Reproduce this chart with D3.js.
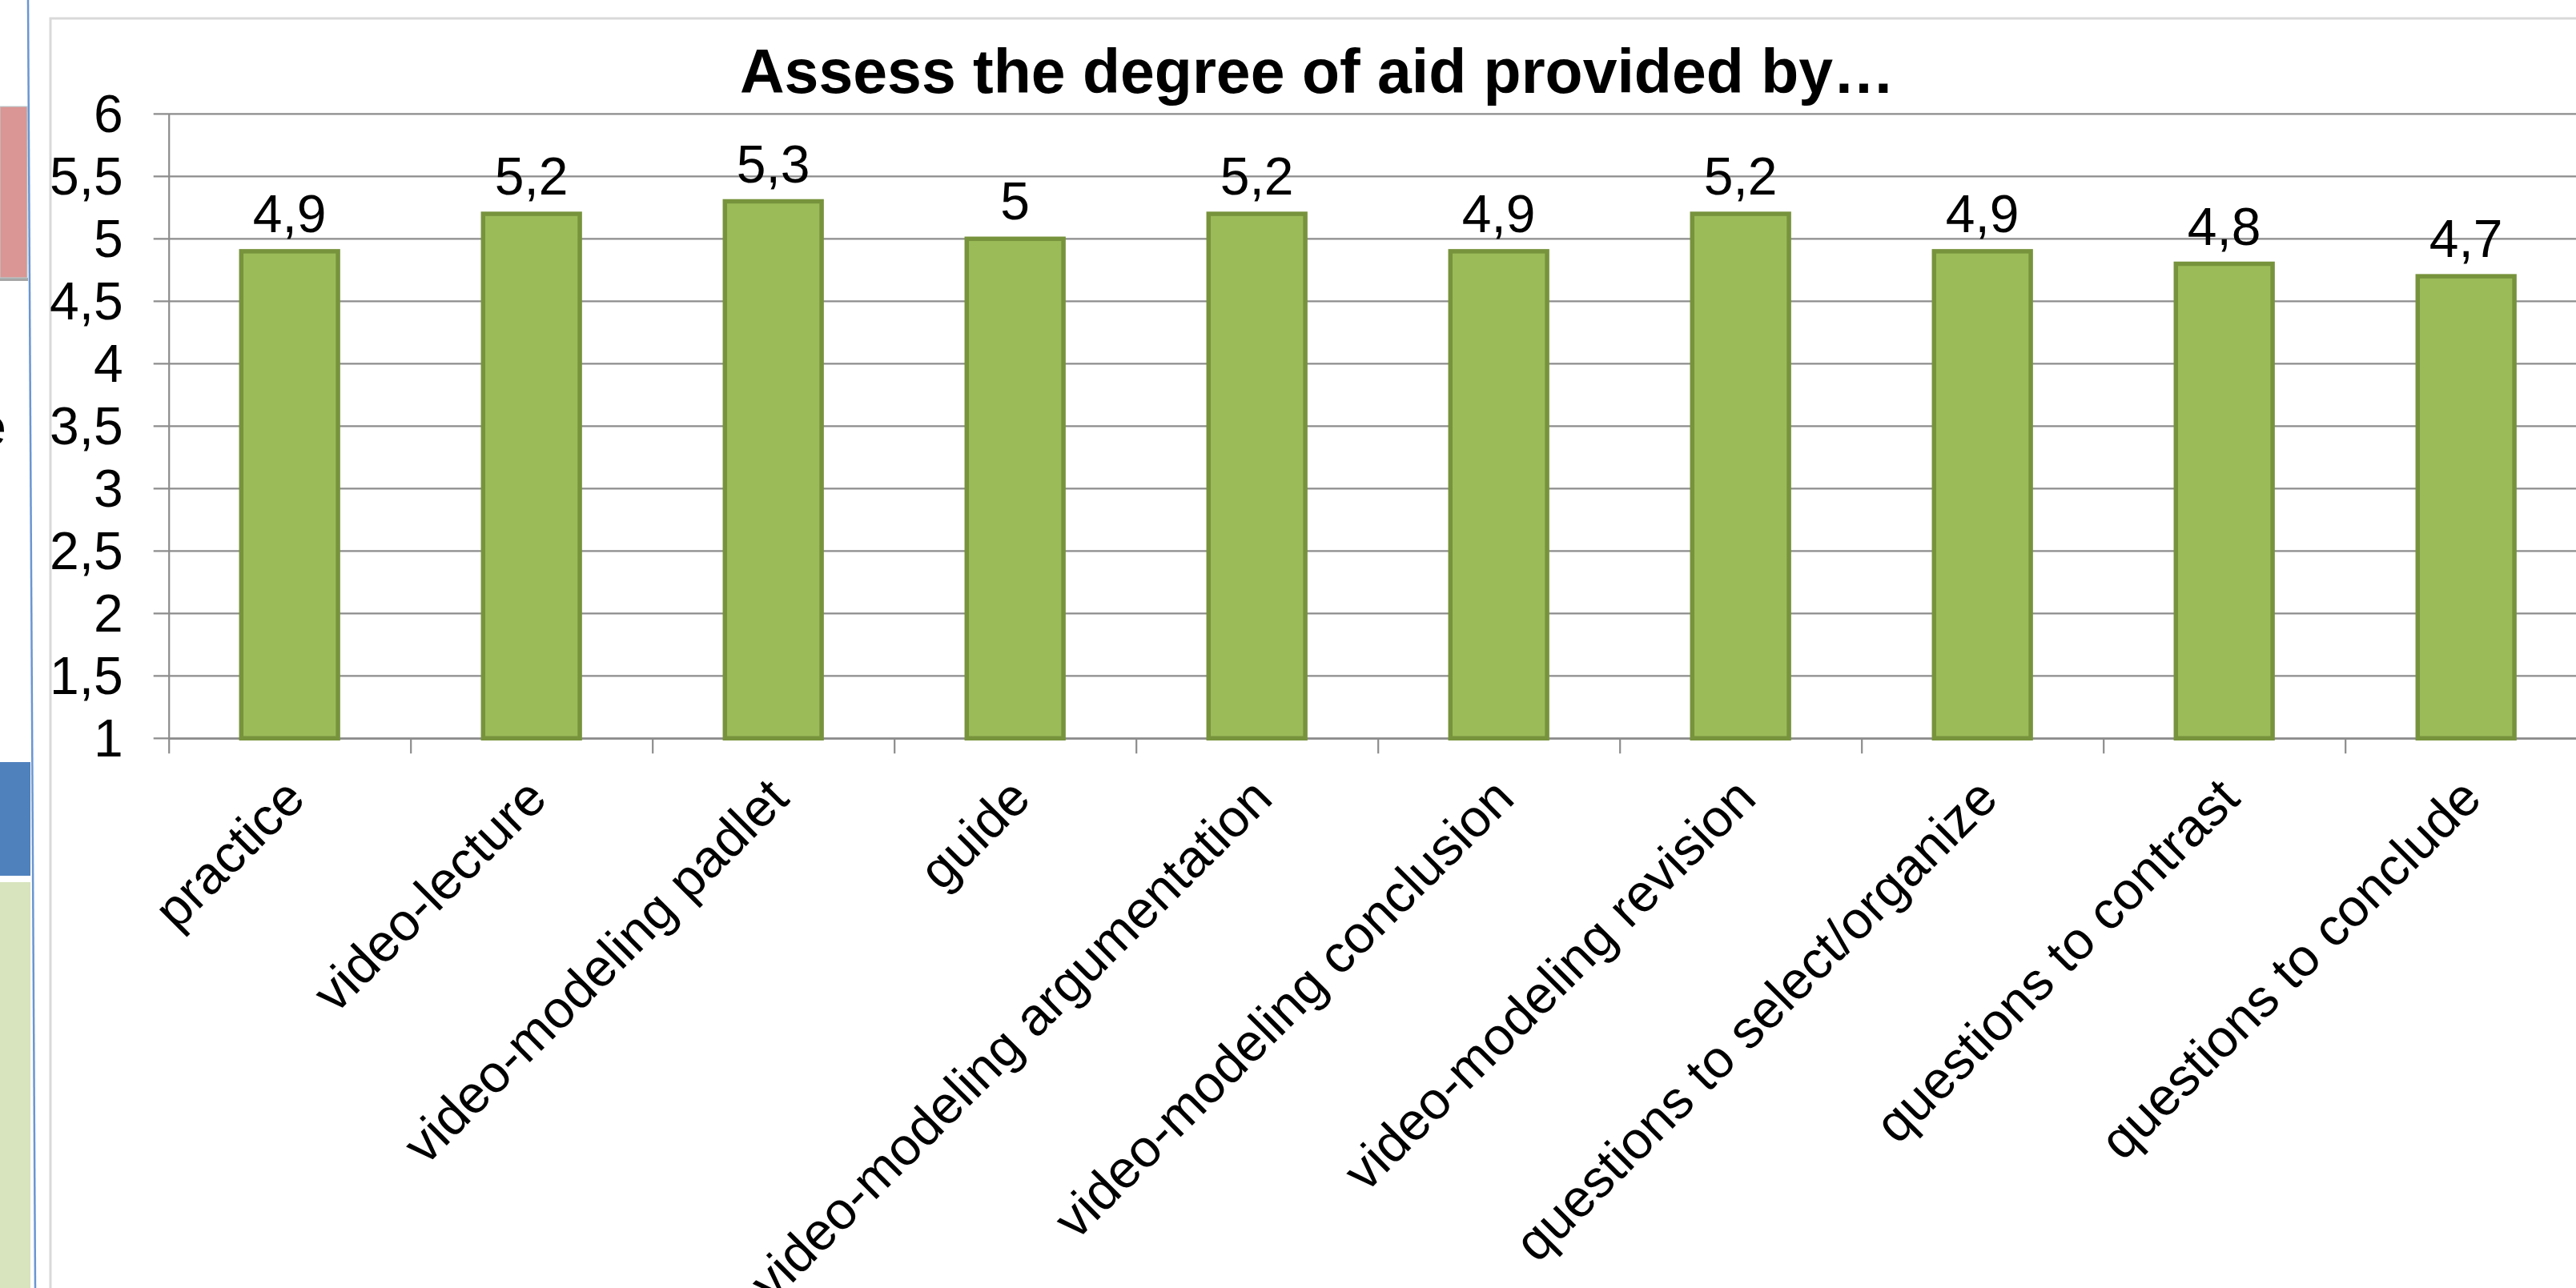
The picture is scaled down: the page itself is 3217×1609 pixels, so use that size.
<!DOCTYPE html>
<html>
<head>
<meta charset="utf-8">
<script src="https://cdn.jsdelivr.net/npm/d3@7"></script>
<style>
    body { margin: 0; background: #ffffff; }
    svg { display: block; font-family: "Liberation Sans", Arial, sans-serif; }
</style>
</head>
<body>
<svg id="chart" width="3217" height="1609"></svg>
<script>
// Chart data
var categories = [
    "practice",
    "video-lecture",
    "video-modeling padlet",
    "guide",
    "video-modeling argumentation",
    "video-modeling conclusion",
    "video-modeling revision",
    "questions to select/organize",
    "questions to contrast",
    "questions to conclude"
];
var values = [4.9, 5.2, 5.3, 5.0, 5.2, 4.9, 5.2, 4.9, 4.8, 4.7];
var yTicks = [1, 1.5, 2, 2.5, 3, 3.5, 4, 4.5, 5, 5.5, 6];
var chartTitle = "Assess the degree of aid provided by\u2026";

var svg = d3.select("#chart");
var width = 3217,
    height = 1609;

// plot area (runs past the right edge like the slide does)
var plotLeft = 210.7,
    plotTop = 142.3,
    plotBottom = 922.3,
    step = 302,
    plotRight = plotLeft + step * categories.length;

var gridColor = "#8c8c8c";

// comma as decimal separator
var locale = d3.formatLocale({decimal: ",", thousands: ".", grouping: [3], currency: ["", ""]});
var fmt = locale.format(".1~f");

/* slide leftovers on the left edge */
var deco = svg.append("g").attr("id", "deco");
deco.append("rect").attr("x", 0).attr("y", 347).attr("width", 35).attr("height", 4).style("fill", "#a6a6a6");
deco.append("rect").attr("x", 0).attr("y", 133).attr("width", 34).attr("height", 214)
    .style("fill", "#d99694").style("stroke", "#b7cfd3").style("stroke-width", 1);
deco.append("rect").attr("x", 0).attr("y", 952).attr("width", 38).attr("height", 142).style("fill", "#4f81bd");
deco.append("rect").attr("x", 0).attr("y", 1102).attr("width", 38).attr("height", 507).style("fill", "#d7e4bd");
deco.append("line").attr("x1", 35).attr("y1", 0).attr("x2", 44).attr("y2", 1609)
    .style("stroke", "#6a96d2").style("stroke-width", 2.5);
deco.append("text").attr("x", 8).attr("y", 556).attr("text-anchor", "end")
    .style("font-size", "66px").style("fill", "#000").text("e");

// chart frame
svg.append("path")
    .attr("d", "M63,1609 V23 H" + width)
    .style("fill", "none").style("stroke", "#d9d9d9").style("stroke-width", 3);

/* scales */
var xScale = d3.scaleBand()
    .domain(categories)
    .range([plotLeft, plotRight])
    .paddingInner(0.6)
    .paddingOuter(0.3);

var xEdge = d3.scaleLinear()
    .domain([0, categories.length])
    .range([plotLeft, plotRight]);

var yScale = d3.scaleLinear()
    .domain([1, 6])
    .range([plotBottom, plotTop]);

/* gridlines */
svg.append("g").attr("id", "grid")
    .selectAll("line").data(yTicks).enter()
    .append("line")
    .attr("x1", plotLeft - 19)
    .attr("x2", plotRight)
    .attr("y1", function (d) { return yScale(d); })
    .attr("y2", function (d) { return yScale(d); })
    .style("stroke", gridColor)
    .style("stroke-width", 2.2);

/* y axis */
var yAxis = d3.axisLeft(yScale)
    .tickValues(yTicks)
    .tickSize(0)
    .tickSizeOuter(0)
    .tickPadding(57)
    .tickFormat(fmt);

var yG = svg.append("g").attr("id", "yAxis")
    .attr("transform", "translate(" + plotLeft + ",0)")
    .call(yAxis);
yG.select(".domain").style("stroke", gridColor).style("stroke-width", 2.2);
yG.selectAll("text")
    .attr("dy", "0.34em")
    .style("font-size", "66px")
    .style("fill", "#000")
    .style("font-family", "'Liberation Sans', Arial, sans-serif");

/* x axis: ticks on category boundaries */
var xAxis = d3.axisBottom(xEdge)
    .tickValues(d3.range(categories.length + 1))
    .tickSize(19)
    .tickSizeOuter(0)
    .tickFormat("");

var xG = svg.append("g").attr("id", "xAxis")
    .attr("transform", "translate(0," + plotBottom + ")")
    .call(xAxis);
xG.select(".domain").style("stroke", gridColor).style("stroke-width", 2.2);
xG.selectAll(".tick line").style("stroke", gridColor).style("stroke-width", 2.2);

// rotated category labels
svg.append("g").attr("id", "xLabels")
    .selectAll("text").data(categories).enter()
    .append("text")
    .attr("transform", function (d) {
        var cx = xScale(d) + xScale.bandwidth() / 2 + 6;
        return "translate(" + cx + "," + (plotBottom + 62) + ") rotate(-45)";
    })
    .attr("text-anchor", "end")
    .attr("dy", "0.35em")
    .style("font-size", "66px")
    .style("fill", "#000")
    .text(function (d) { return d; });

/* bars */
var bars = svg.append("g").attr("id", "bars")
    .selectAll("rect").data(values);

bars.enter()
    .append("rect")
    .attr("x", function (d, i) { return xScale(categories[i]); })
    .attr("y", function (d) { return yScale(d); })
    .attr("width", xScale.bandwidth())
    .attr("height", function (d) { return plotBottom - yScale(d); })
    .style("fill", "#9bbb59")
    .style("stroke", "#77933c")
    .style("stroke-width", 5.5);

/* value labels */
svg.append("g").attr("id", "values")
    .selectAll("text").data(values).enter()
    .append("text")
    .attr("x", function (d, i) { return xScale(categories[i]) + xScale.bandwidth() / 2; })
    .attr("y", function (d) { return yScale(d) - 24; })
    .attr("text-anchor", "middle")
    .style("font-size", "66px")
    .style("fill", "#000")
    .text(function (d) { return fmt(d); });

/* title */
svg.append("text")
    .attr("x", 1645)
    .attr("y", 116)
    .attr("text-anchor", "middle")
    .style("font-size", "77px")
    .style("font-weight", "bold")
    .style("fill", "#000")
    .text(chartTitle);
</script>
</body>
</html>
